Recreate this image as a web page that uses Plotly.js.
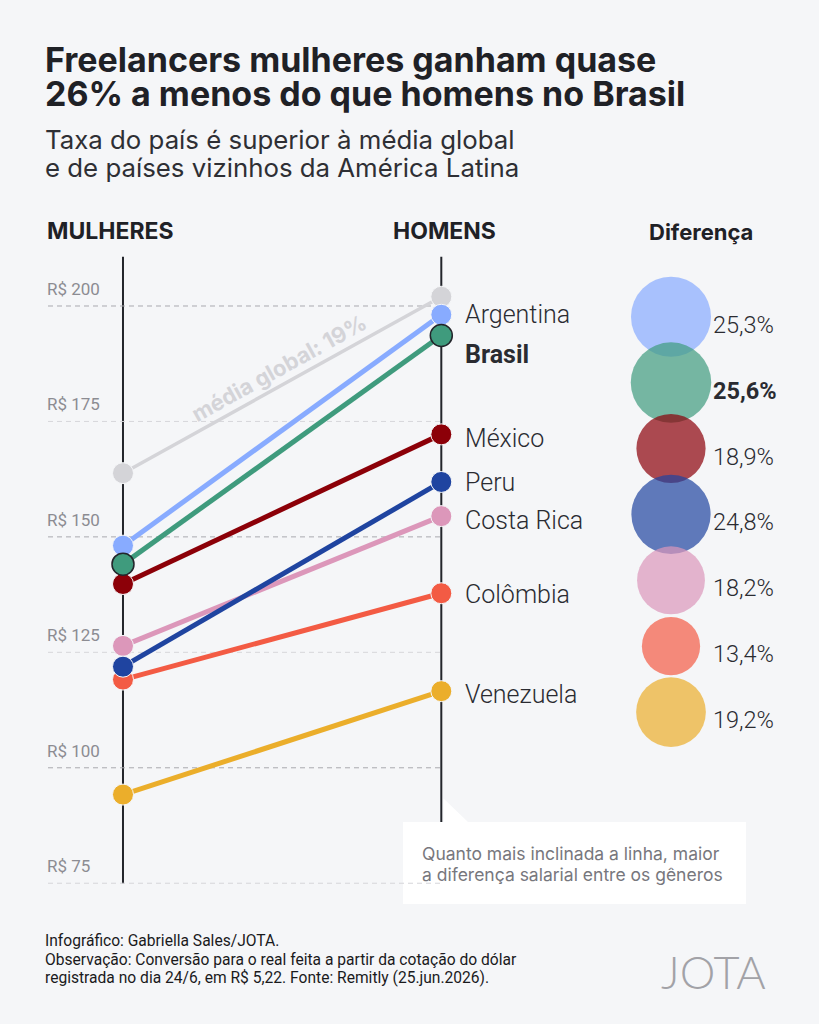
<!DOCTYPE html>
<html>
<head>
<meta charset="utf-8">
<script src="https://cdn.plot.ly/plotly-3.0.1.min.js"></script>
<style>
html,body{margin:0;padding:0;background:#f5f6f8;}
#chart{width:819px;height:1024px;}
</style>
</head>
<body>
<div id="chart"></div>
<script>
// ---------- DATA ----------
const colunas = ['MULHERES', 'HOMENS'];
const paises = ['Argentina', 'Brasil', 'México', 'Peru', 'Costa Rica', 'Colômbia', 'Venezuela'];
const mulheres = [148.1, 144.1, 139.8, 121.9, 126.4, 119.1, 94.2];
const homens   = [198.1, 193.6, 172.2, 161.9, 154.5, 137.8, 116.6];
const diferenca = [25.3, 25.6, 18.9, 24.8, 18.2, 13.4, 19.2];
const diferencaLabels = ['25,3%', '25,6%', '18,9%', '24,8%', '18,2%', '13,4%', '19,2%'];
const globalMulheres = 163.8;
const globalHomens = 202.0;
const globalLabel = 'média global: 19%';
const tickVals = [75, 100, 125, 150, 175, 200];
const tickLabels = ['R$ 75', 'R$ 100', 'R$ 125', 'R$ 150', 'R$ 175', 'R$ 200'];
const colunaDiferenca = 'Diferença';

// ---------- STYLE ----------
const W = 819, H = 1024;
const P = x => x / W, Q = y => 1 - y / H;
const bg = '#f5f6f8';
const cores = ['#88abff', '#3f9b7d', '#8c0008', '#1f44a0', '#dc97ba', '#f35b44', '#ebae2b'];
const corGlobal = '#d4d4d8';
const drawOrder = [6, 5, 4, 3, 2, 0, 1];
const labelShift = [0, -19, -4, -1, -4, -1, -3];
const darkText = '#1f2126';
const FONT = 'Roboto, "Noto Sans", sans-serif';
const INTER = 'Inter, Roboto, sans-serif';

const traces = [];
traces.push({
  type: 'scatter', mode: 'lines+markers', x: colunas, y: [globalMulheres, globalHomens],
  line: {color: corGlobal, width: 3.5},
  marker: {size: 21, color: corGlobal, line: {color: bg, width: 1}},
  hoverinfo: 'skip', cliponaxis: false
});
drawOrder.forEach(i => {
  const isBR = paises[i] === 'Brasil';
  traces.push({
    type: 'scatter', mode: 'lines+markers', x: colunas, y: [mulheres[i], homens[i]],
    line: {color: cores[i], width: 5},
    marker: {size: isBR ? 22 : 21, color: cores[i], line: {color: isBR ? '#23252b' : bg, width: isBR ? 1.5 : 1}},
    hoverinfo: 'skip', cliponaxis: false
  });
});
traces.push({
  type: 'scatter', mode: 'markers', xaxis: 'x2', yaxis: 'y2',
  x: paises.map(() => colunaDiferenca), y: paises,
  marker: {size: diferenca, sizemode: 'area', sizeref: 0.0079, color: cores, opacity: 0.7, line: {width: 0}},
  hoverinfo: 'skip', cliponaxis: false
});

const shapes = [];
const annotations = [];

// gridlines + tick labels
tickVals.forEach((v, k) => {
  const major = (v % 50 === 0);
  shapes.push({type: 'line', xref: 'x', yref: 'y', x0: -0.2356, x1: 1, y0: v, y1: v, layer: 'below',
    line: {color: major ? '#a9a9af' : '#d6d6da', width: 1, dash: '5px,4px'}});
  annotations.push({xref: 'x', yref: 'y', x: -0.2456, y: v, yshift: 17, xanchor: 'left', yanchor: 'middle',
    text: tickLabels[k], showarrow: false, font: {family: FONT, size: 17, color: '#8c8c92'}});
});

// vertical axis lines
shapes.push({type: 'line', xref: 'x', yref: 'paper', x0: 0, x1: 0, y0: Q(256.7), y1: Q(883.5), layer: 'below', line: {color: '#23252b', width: 2}});
shapes.push({type: 'line', xref: 'x', yref: 'paper', x0: 1, x1: 1, y0: Q(256.7), y1: Q(822), layer: 'below', line: {color: '#23252b', width: 2}});

// note box
shapes.push({type: 'rect', xref: 'paper', yref: 'paper', x0: P(403), x1: P(746), y0: Q(822), y1: Q(904), layer: 'below',
  fillcolor: '#ffffff', line: {width: 0}});
shapes.push({type: 'path', xref: 'paper', yref: 'paper', layer: 'below', fillcolor: '#ffffff', line: {width: 0},
  path: `M ${P(443.5)} ${Q(798.5)} L ${P(443.5)} ${Q(823)} L ${P(469)} ${Q(823)} Z`});

// country labels + difference labels
paises.forEach((p, i) => {
  annotations.push({xref: 'x', yref: 'y', x: 1, y: homens[i], xshift: 22, yshift: labelShift[i],
    xanchor: 'left', yanchor: 'middle', text: p, showarrow: false,
    font: {family: FONT, size: 25, weight: p === 'Brasil' ? 700 : 300, color: '#2a2b31'}});
  annotations.push({xref: 'x2', yref: 'y2', x: 0, y: i, xshift: 40, yshift: -8,
    xanchor: 'left', yanchor: 'middle', text: diferencaLabels[i], showarrow: false,
    font: {family: FONT, size: 23.5, weight: p === 'Brasil' ? 700 : 300, color: '#2a2b31'}});
});

// media global label along line
const t = 0.49;
annotations.push({xref: 'x', yref: 'y', x: t, y: globalMulheres + t * (globalHomens - globalMulheres), yshift: 19,
  textangle: -29, text: globalLabel, showarrow: false, xanchor: 'center', yanchor: 'middle',
  font: {family: INTER, size: 22, weight: 700, color: corGlobal}});

// headers
annotations.push({xref: 'paper', yref: 'paper', x: P(45), y: Q(231), xanchor: 'left', yanchor: 'middle', showarrow: false,
  text: colunas[0], font: {family: INTER, size: 23, weight: 700, color: darkText}});
annotations.push({xref: 'paper', yref: 'paper', x: P(445), y: Q(231), xanchor: 'center', yanchor: 'middle', showarrow: false,
  text: colunas[1], font: {family: INTER, size: 23, weight: 700, color: darkText}});
annotations.push({xref: 'paper', yref: 'paper', x: P(700.5), y: Q(231.5), xanchor: 'center', yanchor: 'middle', showarrow: false,
  text: colunaDiferenca, font: {family: INTER, size: 22, weight: 700, color: darkText}});

// title + subtitle
[['Freelancers mulheres ganham quase', 59], ['26% a menos do que homens no Brasil', 93]].forEach(([txt, y]) => {
  annotations.push({xref: 'paper', yref: 'paper', x: P(43), y: Q(y), xanchor: 'left', yanchor: 'middle', showarrow: false,
    text: txt, font: {family: INTER, size: 34, weight: 700, color: darkText}});
});
[['Taxa do país é superior à média global', 139.5], ['e de países vizinhos da América Latina', 167.5]].forEach(([txt, y]) => {
  annotations.push({xref: 'paper', yref: 'paper', x: P(43), y: Q(y), xanchor: 'left', yanchor: 'middle', showarrow: false,
    text: txt, font: {family: INTER, size: 25.8, weight: 400, color: '#2e2f34'}});
});

// note text
[['Quanto mais inclinada a linha, maior', 853], ['a diferença salarial entre os gêneros', 874]].forEach(([txt, y]) => {
  annotations.push({xref: 'paper', yref: 'paper', x: P(420), y: Q(y), xanchor: 'left', yanchor: 'middle', showarrow: false,
    text: txt, font: {family: INTER, size: 17.5, weight: 400, color: '#77777d'}});
});

// footer
[['Infográfico: Gabriella Sales/JOTA.', 941],
 ['Observação: Conversão para o real feita a partir da cotação do dólar', 959.5],
 ['registrada no dia 24/6, em R$ 5,22. Fonte: Remitly (25.jun.2026).', 977.5]].forEach(([txt, y]) => {
  annotations.push({xref: 'paper', yref: 'paper', x: P(42.5), y: Q(y), xanchor: 'left', yanchor: 'middle', showarrow: false,
    text: txt, font: {family: FONT, size: 15.6, weight: 400, color: '#1a1a1c'}});
});

// logo
annotations.push({xref: 'paper', yref: 'paper', x: P(713), y: Q(972), xanchor: 'center', yanchor: 'middle', showarrow: false,
  text: 'JOTA', font: {family: 'Lato, Roboto, sans-serif', size: 45, weight: 300, color: '#a2a2a7'}});

const layout = {
  width: W, height: H, autosize: false,
  margin: {l: 0, r: 0, t: 0, b: 0, pad: 0},
  paper_bgcolor: bg, plot_bgcolor: bg, showlegend: false,
  font: {family: FONT},
  xaxis: {type: 'category', categoryarray: colunas, range: [-0.3864, 2.1866], visible: false, fixedrange: true},
  yaxis: {range: [44.52, 266.26], visible: false, fixedrange: true},
  xaxis2: {type: 'category', categoryarray: [colunaDiferenca], overlaying: 'x', range: [-6.71, 1.48], visible: false},
  yaxis2: {type: 'category', categoryarray: paises, overlaying: 'y', range: [10.733, -4.806], visible: false},
  shapes: shapes,
  annotations: annotations
};

Plotly.newPlot('chart', traces, layout, {staticPlot: true, displayModeBar: false});
</script>
</body>
</html>
